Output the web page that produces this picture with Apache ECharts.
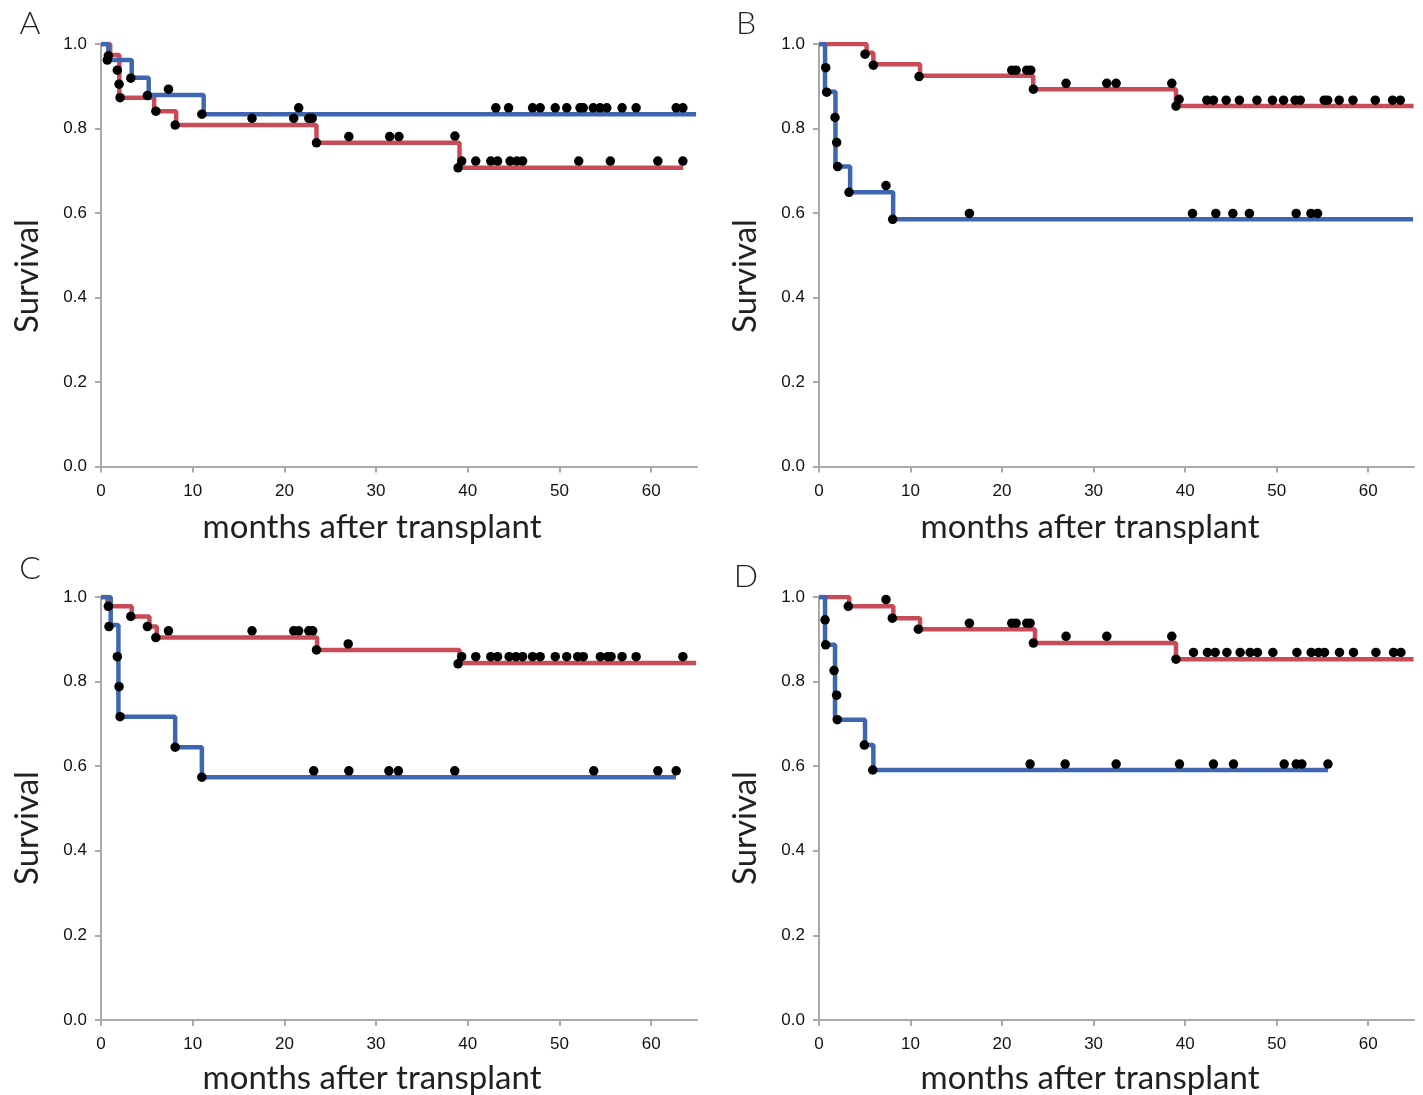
<!DOCTYPE html>
<html>
<head>
<meta charset="utf-8">
<script src="https://cdn.jsdelivr.net/npm/echarts@6/dist/echarts.min.js"></script>
<style>
html,body{margin:0;padding:0;background:#fff;}
#chart{width:1423px;height:1095px;}
</style>
</head>
<body>
<div id="chart"></div>
<script>
// ---------- data (months, survival) ----------
var xTicks = [0, 10, 20, 30, 40, 50, 60];
var yTicks = [0, 0.2, 0.4, 0.6, 0.8, 1.0];
var panelLabels = ['A', 'B', 'C', 'D'];
var xTitle = 'months after transplant';
var yTitle = 'Survival';

// Panel A
var aRed = [[0,1],[1.0,0.974],[2.0,0.873],[5.8,0.841],[8.2,0.808],[23.5,0.766],[39.1,0.707],[63.5,0.707]];
var aBlue = [[0,1],[0.8,0.962],[3.35,0.920],[5.2,0.879],[11.2,0.834],[64.9,0.834]];
var aDots = [[0.80,0.972],[0.69,0.962],[1.78,0.938],[1.97,0.905],[2.08,0.873],[3.25,0.919],[5.06,0.878],[5.98,0.841],
  [7.36,0.893],[8.09,0.808],[11.0,0.834],[16.47,0.824],[21.02,0.824],[21.56,0.849],[22.66,0.824],[23.03,0.824],
  [23.5,0.766],[27.03,0.781],[31.48,0.781],[32.49,0.781],[38.6,0.782],[38.94,0.707],
  [39.34,0.723],[40.87,0.723],[42.51,0.723],[43.25,0.723],[44.62,0.723],[45.36,0.723],[45.98,0.723],[52.10,0.723],
  [55.55,0.723],[60.73,0.723],[63.46,0.723],
  [43.06,0.849],[44.45,0.849],[47.07,0.849],[47.90,0.849],[49.54,0.849],[50.79,0.849],[52.24,0.849],[52.60,0.849],
  [53.69,0.849],[54.43,0.849],[55.16,0.849],[56.83,0.849],[58.36,0.849],[62.73,0.849],[63.46,0.849]];

// Panel B
var bRed = [[0,1],[5.2,0.979],[5.94,0.952],[11.04,0.925],[23.4,0.893],[39.0,0.853],[64.95,0.853]];
var bBlue = [[0,1],[0.66,0.887],[1.8,0.710],[3.4,0.649],[8.1,0.585],[64.9,0.585]];
var bDots = [[5.03,0.976],[5.94,0.950],[10.93,0.923],[21.06,0.938],[21.53,0.938],[22.70,0.938],[23.13,0.938],
  [23.42,0.893],[26.99,0.907],[31.44,0.907],[32.46,0.907],[38.54,0.907],[39.0,0.853],[39.34,0.869],
  [42.37,0.867],[43.09,0.867],[44.48,0.867],[45.93,0.867],[47.84,0.867],[49.54,0.867],[50.75,0.867],[52.02,0.867],
  [52.57,0.867],[55.19,0.867],[55.56,0.867],[56.83,0.867],[58.33,0.867],[60.77,0.867],[62.66,0.867],[63.50,0.867],
  [0.73,0.944],[0.84,0.886],[1.75,0.826],[1.93,0.767],[2.04,0.710],[3.28,0.649],[7.32,0.665],[8.05,0.585],[16.43,0.599],
  [40.80,0.599],[43.35,0.599],[45.21,0.599],[47.02,0.599],[52.13,0.599],[53.74,0.599],[54.46,0.599]];

// Panel C
var cRed = [[0,1],[0.7,0.978],[3.35,0.954],[5.28,0.930],[6.08,0.904],[23.57,0.875],[39.1,0.844],[64.9,0.844]];
var cBlue = [[0,1],[1.06,0.934],[1.9,0.717],[8.09,0.645],[11.0,0.574],[62.7,0.574]];
var cDots = [[0.80,0.978],[0.87,0.930],[3.25,0.954],[5.06,0.930],[5.98,0.904],[7.36,0.920],[16.47,0.920],[21.02,0.920],
  [21.56,0.920],[22.66,0.920],[23.09,0.920],[23.5,0.875],[26.96,0.889],[38.94,0.842],
  [39.34,0.859],[40.87,0.859],[42.51,0.859],[43.25,0.859],[44.51,0.859],[45.25,0.859],[45.98,0.859],[47.07,0.859],
  [47.90,0.859],[49.54,0.859],[50.79,0.859],[51.99,0.859],[52.60,0.859],[54.46,0.859],[55.27,0.859],[55.63,0.859],
  [56.83,0.859],[58.36,0.859],[63.46,0.859],
  [1.78,0.859],[1.97,0.788],[2.08,0.717],[8.09,0.645],[11.0,0.574],
  [23.2,0.589],[27.03,0.589],[31.40,0.589],[32.43,0.589],[38.58,0.589],[53.74,0.589],[60.73,0.589],[62.73,0.589]];

// Panel D
var dRed = [[0,1],[3.3,0.978],[8.12,0.950],[11.04,0.924],[23.6,0.891],[39.0,0.853],[64.95,0.853]];
var dBlue = [[0,1],[0.66,0.887],[1.75,0.710],[5.03,0.650],[5.94,0.591],[55.6,0.591]];
var dDots = [[3.2,0.978],[7.32,0.994],[8.01,0.950],[10.85,0.924],[16.43,0.938],[21.06,0.938],[21.53,0.938],[22.70,0.938],
  [23.06,0.938],[23.42,0.891],[26.99,0.907],[31.44,0.907],[38.54,0.907],[39.0,0.853],
  [40.91,0.869],[42.44,0.869],[43.28,0.869],[44.56,0.869],[46.01,0.869],[47.10,0.869],[47.90,0.869],[49.58,0.869],
  [52.21,0.869],[53.77,0.869],[54.57,0.869],[55.22,0.869],[56.86,0.869],[58.39,0.869],[60.84,0.869],[62.77,0.869],[63.57,0.869],
  [0.66,0.946],[0.73,0.887],[1.64,0.826],[1.93,0.768],[2.0,0.710],[4.95,0.650],[5.87,0.591],
  [23.06,0.605],[26.89,0.605],[32.46,0.605],[39.38,0.605],[43.09,0.605],[45.28,0.605],[50.82,0.605],[52.13,0.605],
  [52.75,0.605],[55.6,0.605]];

var panels = [
  {red: aRed, blue: aBlue, dots: aDots},
  {red: bRed, blue: bBlue, dots: bDots},
  {red: cRed, blue: cBlue, dots: cDots},
  {red: dRed, blue: dBlue, dots: dDots}
];

// ---------- layout ----------
var grids = [
  {left: 101, top: 44, width: 596, height: 422.5},
  {left: 819, top: 44, width: 595, height: 422.5},
  {left: 101, top: 597, width: 596, height: 423},
  {left: 819, top: 597, width: 595, height: 423}
];
var RED = '#c94b57', BLUE = '#3f67b1', AXIS = '#a9a9a9', TXT = '#231f20';
var tickFont = {fontFamily: 'Liberation Sans', fontSize: 17, color: '#111'};

var option = {
  backgroundColor: '#fff',
  animation: false,
  grid: grids.map(function (g) { return Object.assign({containLabel: false}, g); }),
  xAxis: [], yAxis: [], series: [], graphic: []
};

panels.forEach(function (p, i) {
  option.xAxis.push({
    type: 'value', gridIndex: i, min: 0, max: 65, interval: 10,
    axisLine: {show: true, onZero: false, lineStyle: {color: AXIS, width: 2}},
    axisTick: {show: true, length: 6, lineStyle: {color: AXIS, width: 2}, customValues: xTicks},
    axisLabel: Object.assign({margin: 16, customValues: xTicks}, tickFont),
    splitLine: {show: false}
  });
  option.yAxis.push({
    type: 'value', gridIndex: i, min: 0, max: 1, interval: 0.2,
    axisLine: {show: true, onZero: false, lineStyle: {color: AXIS, width: 2}},
    axisTick: {show: true, length: 6, lineStyle: {color: AXIS, width: 2}, customValues: yTicks},
    axisLabel: Object.assign({margin: 14, customValues: yTicks, formatter: function (v) { return v.toFixed(1); }}, tickFont),
    splitLine: {show: false}
  });
  option.series.push({
    type: 'line', xAxisIndex: i, yAxisIndex: i, data: p.red, step: 'end', showSymbol: false,
    lineStyle: {color: RED, width: 4.5}, z: 2, silent: true
  });
  option.series.push({
    type: 'line', xAxisIndex: i, yAxisIndex: i, data: p.blue, step: 'end', showSymbol: false,
    lineStyle: {color: BLUE, width: 4.5}, z: 3, silent: true
  });
  option.series.push({
    type: 'scatter', xAxisIndex: i, yAxisIndex: i, data: p.dots, symbolSize: 9.5,
    itemStyle: {color: '#000', opacity: 1}, z: 5, silent: true
  });
});

var titleFont = 'Lato';
var letterPos = [[30, 24], [746, 24], [30, 569], [746, 577]];
letterPos.forEach(function (pos, i) {
  option.graphic.push({type: 'text', x: pos[0], y: pos[1],
    style: {text: panelLabels[i], font: '300 32px ' + titleFont, fill: TXT, textAlign: 'center', textVerticalAlign: 'middle'}});
});
var xTitlePos = [[372, 527], [1090, 527], [372, 1078], [1090, 1078]];
xTitlePos.forEach(function (pos) {
  option.graphic.push({type: 'text', x: pos[0], y: pos[1],
    style: {text: xTitle, font: '33px ' + titleFont, fill: TXT, textAlign: 'center', textVerticalAlign: 'middle'}});
});
var yTitlePos = [[27, 276], [745, 276], [27, 828], [745, 828]];
yTitlePos.forEach(function (pos) {
  option.graphic.push({type: 'text', x: pos[0], y: pos[1], rotation: Math.PI / 2,
    style: {text: yTitle, font: '33px ' + titleFont, fill: TXT, textAlign: 'center', textVerticalAlign: 'middle'}});
});

var chart = echarts.init(document.getElementById('chart'), null, {renderer: 'canvas'});
chart.setOption(option);
</script>
</body>
</html>
